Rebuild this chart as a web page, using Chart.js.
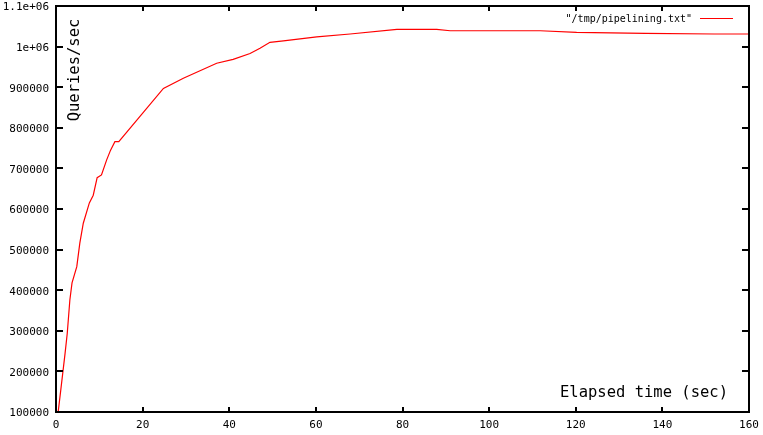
<!DOCTYPE html>
<html><head><meta charset="utf-8">
<script src="https://cdn.jsdelivr.net/npm/chart.js@4/dist/chart.umd.min.js"></script>
<style>html,body{margin:0;padding:0;background:#fff;}#wrap{width:763px;height:435px;}</style>
</head><body><div id="wrap"><canvas id="c" width="763" height="435"></canvas></div>
<script>
const seriesLabel = '"/tmp/pipelining.txt"';
const elapsed = [0.5,1.1,2.1,2.6,3.2,3.7,4.8,5.5,6.3,7.7,8.6,9.5,10.5,11.7,12.6,13.6,14.5,24.8,29.4,37.1,40.9,44.8,47.1,49.4,52.5,60.2,67.9,78.7,87.9,91,111.8,120.2,136,152,160];
const queries = [100000,154000,245000,294000,376000,418000,458000,516000,565000,615000,634000,677000,684000,721000,745000,766000,766000,897000,922000,959000,968700,983000,995800,1010500,1014000,1024000,1031000,1042500,1042500,1039000,1039000,1035000,1032700,1031000,1031000];
const xTicks = [0,20,40,60,80,100,120,140,160];
const yTicks = [100000,200000,300000,400000,500000,600000,700000,800000,900000,1000000,1100000];
const yTickLabels = ["100000","200000","300000","400000","500000","600000","700000","800000","900000","1e+06","1.1e+06"];
const xTitle = "Elapsed time (sec)";
const yTitle = "Queries/sec";

const MONO = '"DejaVu Sans Mono", "Liberation Mono", monospace';

const frame = {
  id: 'frame',
  afterDatasetsDraw(chart) {
    const ctx = chart.ctx, a = chart.chartArea;
    const xs = chart.scales.x, ys = chart.scales.y;
    ctx.save();
    ctx.strokeStyle = '#000';
    ctx.lineWidth = 2;
    ctx.strokeRect(a.left, a.top, a.right - a.left, a.bottom - a.top);
    ctx.beginPath();
    xTicks.forEach(v => {
      const px = Math.round(xs.getPixelForValue(v));
      ctx.moveTo(px, a.bottom); ctx.lineTo(px, a.bottom - 5);
      ctx.moveTo(px, a.top); ctx.lineTo(px, a.top + 5);
    });
    yTicks.forEach(v => {
      const py = Math.round(ys.getPixelForValue(v));
      ctx.moveTo(a.left, py); ctx.lineTo(a.left + 7, py);
      ctx.moveTo(a.right, py); ctx.lineTo(a.right - 7, py);
    });
    ctx.stroke();
    ctx.fillStyle = '#000';
    ctx.font = '15.5px ' + MONO;
    ctx.textAlign = 'right';
    ctx.textBaseline = 'middle';
    ctx.fillText(xTitle, a.right - 21, a.bottom - 19);
    ctx.save();
    ctx.translate(a.left + 19, a.top + 64);
    ctx.rotate(-Math.PI / 2);
    ctx.textAlign = 'center';
    ctx.fillText(yTitle, 0, 0);
    ctx.restore();
    ctx.font = '10px ' + MONO;
    ctx.textAlign = 'right';
    ctx.fillText(chart.data.datasets[0].label, a.right - 57, a.top + 13);
    ctx.strokeStyle = chart.data.datasets[0].borderColor;
    ctx.lineWidth = 1;
    ctx.beginPath();
    ctx.moveTo(a.right - 49, a.top + 12.5);
    ctx.lineTo(a.right - 16, a.top + 12.5);
    ctx.stroke();
    ctx.restore();
  }
};

new Chart(document.getElementById('c'), {
  type: 'line',
  data: {
    datasets: [{
      label: seriesLabel,
      data: elapsed.map((t, i) => ({x: t, y: queries[i]})),
      borderColor: '#ff0000',
      borderWidth: 1.2,
      pointRadius: 0,
      tension: 0,
      fill: false
    }]
  },
  options: {
    responsive: false,
    animation: false,
    layout: {padding: {top: 6, right: 14, left: 0, bottom: 0}},
    plugins: {legend: {display: false}, tooltip: {enabled: false}},
    scales: {
      x: {
        type: 'linear', min: 0, max: 160,
        afterFit(s) { s.height = 23; s.paddingLeft = 0; s.paddingRight = 0; },
        afterBuildTicks(s) { s.ticks = xTicks.map(v => ({value: v})); },
        grid: {display: false, drawTicks: false},
        border: {display: false},
        ticks: {color: '#000', font: {family: MONO, size: 11}, padding: 7, maxRotation: 0,
                callback: v => String(v)}
      },
      y: {
        type: 'linear', min: 100000, max: 1100000,
        afterFit(s) { s.width = 56; s.paddingTop = 0; s.paddingBottom = 0; },
        afterBuildTicks(s) { s.ticks = yTicks.map(v => ({value: v})); },
        grid: {display: false, drawTicks: false},
        border: {display: false},
        ticks: {color: '#000', font: {family: MONO, size: 11}, padding: 7, labelOffset: 1.5,
                callback: v => yTickLabels[yTicks.indexOf(v)]}
      }
    }
  },
  plugins: [frame]
});
</script></body></html>
